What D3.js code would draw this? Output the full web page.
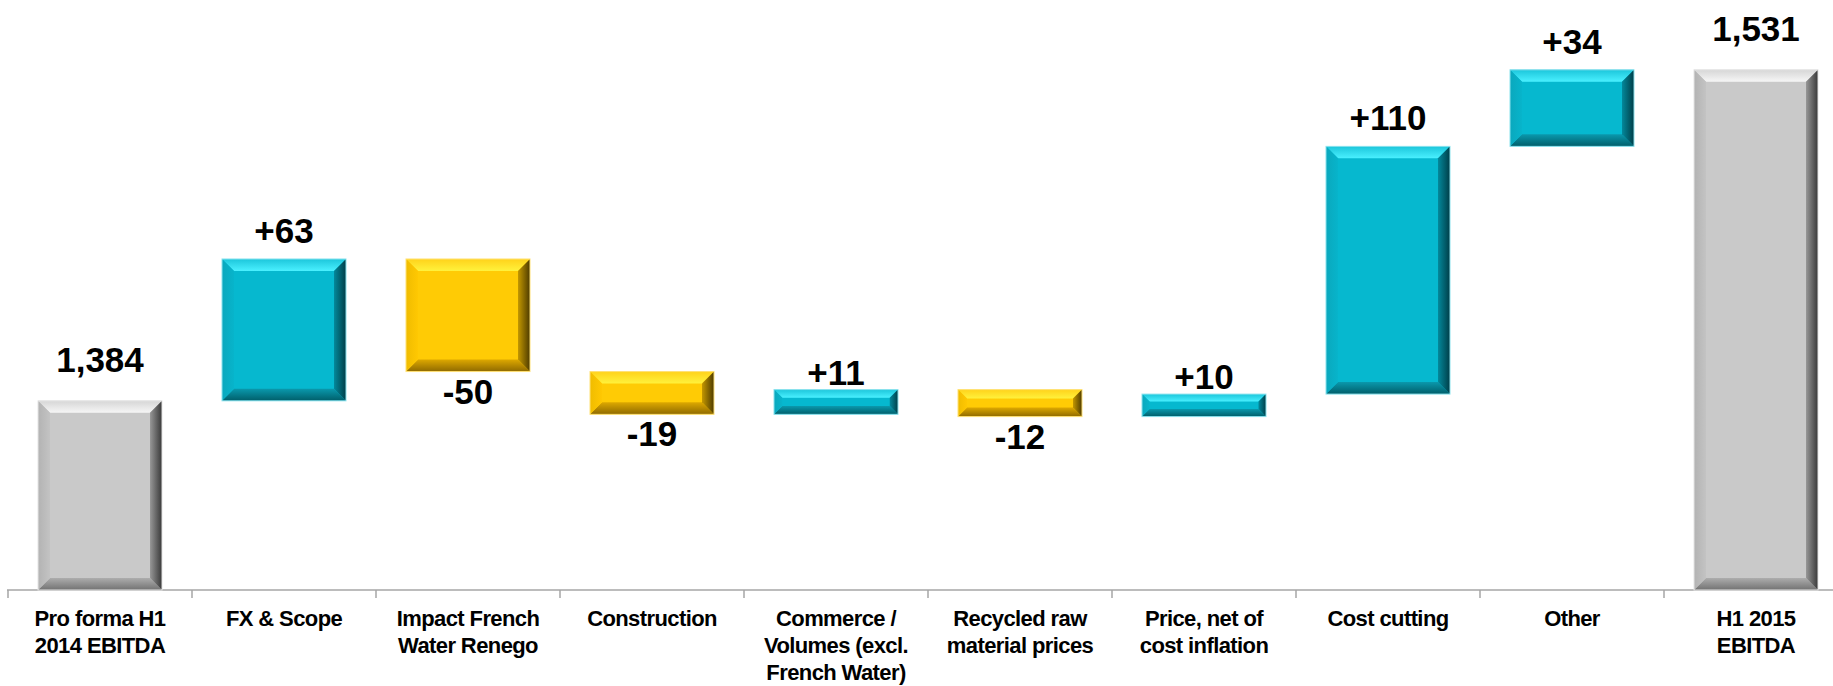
<!DOCTYPE html>
<html>
<head>
<meta charset="utf-8">
<script src="https://cdn.jsdelivr.net/npm/d3@7"></script>
<style>
    body { margin: 0; background: #fff; }
    text { font-family: "Liberation Sans", Arial, sans-serif; font-weight: bold; fill: #000; }
</style>
</head>
<body>
<div id="chart"></div>
<script>
// chart data
const categories = [
    "Pro forma H1\n2014 EBITDA",
    "FX & Scope",
    "Impact French\nWater Renego",
    "Construction",
    "Commerce /\nVolumes (excl.\nFrench Water)",
    "Recycled raw\nmaterial prices",
    "Price, net of\ncost inflation",
    "Cost cutting",
    "Other",
    "H1 2015\nEBITDA"
];
const values = [1384, 63, -50, -19, 11, -12, 10, 110, 34, 1531];
const kinds = ["total", "delta", "delta", "delta", "delta", "delta", "delta", "delta", "delta", "total"];
const yDomain = [1300, 1562];

const width = 1833, height = 686;

const svg = d3.select("#chart").append("svg")
    .attr("width", width)
    .attr("height", height);

// colour sets for the bevelled bars: face + (outer, inner) per side
const palettes = {
    teal: { face: "#06B8CF", edge: "#8FE3EE",
        top: ["#1CC6DB", "#4AF0FF"], bottom: ["#005E6A", "#0A98AC"],
        left: ["#0AA8BD", "#07B4CB"], right: ["#003E48", "#03889B"] },
    gold: { face: "#FFCB05", edge: "#FFE27A",
        top: ["#FFD21A", "#FFF23C"], bottom: ["#8F6A00", "#DDA800"],
        left: ["#F0BC00", "#FFC802"], right: ["#4E3B00", "#C39700"] },
    grey: { face: "#C9C9C9", edge: "#E6E6E6",
        top: ["#D6D6D6", "#F6F6F6"], bottom: ["#727272", "#ADADAD"],
        left: ["#B3B3B3", "#C3C3C3"], right: ["#383838", "#979797"] }
};

const defs = svg.append("defs");
const dirs = {
    top: [0, 0, 0, 1], bottom: [0, 1, 0, 0],
    left: [0, 0, 1, 0], right: [1, 0, 0, 0]
};
Object.keys(palettes).forEach(function (p) {
    Object.keys(dirs).forEach(function (side) {
        const d = dirs[side];
        const g = defs.append("linearGradient")
            .attr("id", p + "-" + side)
            .attr("x1", d[0]).attr("y1", d[1])
            .attr("x2", d[2]).attr("y2", d[3]);
        g.append("stop").attr("offset", "0%").attr("stop-color", palettes[p][side][0]);
        g.append("stop").attr("offset", "100%").attr("stop-color", palettes[p][side][1]);
    });
});

// running totals for the waterfall
let running = 0;
const bars = values.map(function (v, i) {
    let lo, hi;
    if (kinds[i] === "total") {
        lo = yDomain[0];
        hi = v;
        running = v;
    } else {
        lo = Math.min(running, running + v);
        hi = Math.max(running, running + v);
        running += v;
    }
    return { cat: categories[i], value: v, kind: kinds[i], lo: lo, hi: hi };
});

const x = d3.scaleBand()
    .domain(categories)
    .range([8, 8 + 184 * categories.length])
    .paddingInner(0.326)
    .paddingOuter(0.163);

const y = d3.scaleLinear()
    .domain(yDomain)
    .range([590, 0]);

const step = x.step();

// axis line and ticks
const axis = svg.append("g").attr("class", "axis");
axis.append("line")
    .attr("x1", 7).attr("x2", width)
    .attr("y1", y(yDomain[0])).attr("y2", y(yDomain[0]))
    .attr("stroke", "#A6A6A6").attr("stroke-width", 1.5);
axis.selectAll("line.tick")
    .data(categories.concat(["end"]))
    .enter().append("line")
    .attr("class", "tick")
    .attr("x1", function (d, i) { return x.range()[0] + i * step; })
    .attr("x2", function (d, i) { return x.range()[0] + i * step; })
    .attr("y1", y(yDomain[0]))
    .attr("y2", y(yDomain[0]) + 8)
    .attr("stroke", "#A6A6A6").attr("stroke-width", 1.5);

// bevelled bars
const barG = svg.append("g")
    .selectAll("g")
    .data(bars)
    .enter().append("g");

barG.each(function (d) {
    const g = d3.select(this);
    const p = d.kind === "total" ? "grey" : (d.value >= 0 ? "teal" : "gold");
    const bx = x(d.cat), bw = x.bandwidth();
    const by = y(d.hi), bh = y(d.lo) - y(d.hi);
    const b = Math.min(12, bh / 3);

    g.append("rect")
        .attr("x", bx).attr("y", by)
        .attr("width", bw).attr("height", bh)
        .attr("fill", palettes[p].face);

    const sides = {
        top: [[bx, by], [bx + bw, by], [bx + bw - b, by + b], [bx + b, by + b]],
        bottom: [[bx, by + bh], [bx + bw, by + bh], [bx + bw - b, by + bh - b], [bx + b, by + bh - b]],
        left: [[bx, by], [bx + b, by + b], [bx + b, by + bh - b], [bx, by + bh]],
        right: [[bx + bw, by], [bx + bw - b, by + b], [bx + bw - b, by + bh - b], [bx + bw, by + bh]]
    };
    Object.keys(sides).forEach(function (s) {
        g.append("polygon")
            .attr("points", sides[s].map(function (pt) { return pt.join(","); }).join(" "))
            .attr("fill", "url(#" + p + "-" + s + ")");
    });

    g.append("rect")
        .attr("x", bx).attr("y", by)
        .attr("width", bw).attr("height", bh)
        .attr("fill", "none")
        .attr("stroke", palettes[p].edge)
        .attr("stroke-width", 1);
});

// value labels
svg.append("g")
    .selectAll("text")
    .data(bars)
    .enter().append("text")
    .attr("x", function (d) { return x(d.cat) + x.bandwidth() / 2; })
    .attr("y", function (d) {
        const top = y(d.hi), bottom = y(d.lo);
        if (d.kind === "total") return top - 29;
        if (d.value < 0) return bottom + 32;
        return top - (bottom - top < 40 ? 5 : 16);
    })
    .attr("text-anchor", "middle")
    .style("font-size", "35px")
    .text(function (d) {
        if (d.kind === "total") return d3.format(",")(d.value);
        return (d.value > 0 ? "+" : "") + d.value;
    });

// category labels
const catLabels = svg.append("g")
    .selectAll("text")
    .data(categories)
    .enter().append("text")
    .attr("text-anchor", "middle")
    .attr("transform", function (d) {
        return "translate(" + (x(d) + x.bandwidth() / 2) + ",626)";
    })
    .style("font-size", "22px")
    .style("letter-spacing", "-0.6px");

catLabels.selectAll("tspan")
    .data(function (d) { return d.split("\n"); })
    .enter().append("tspan")
    .attr("x", 0)
    .attr("dy", function (d, i) { return i === 0 ? 0 : 27; })
    .text(function (d) { return d; });
</script>
</body>
</html>
